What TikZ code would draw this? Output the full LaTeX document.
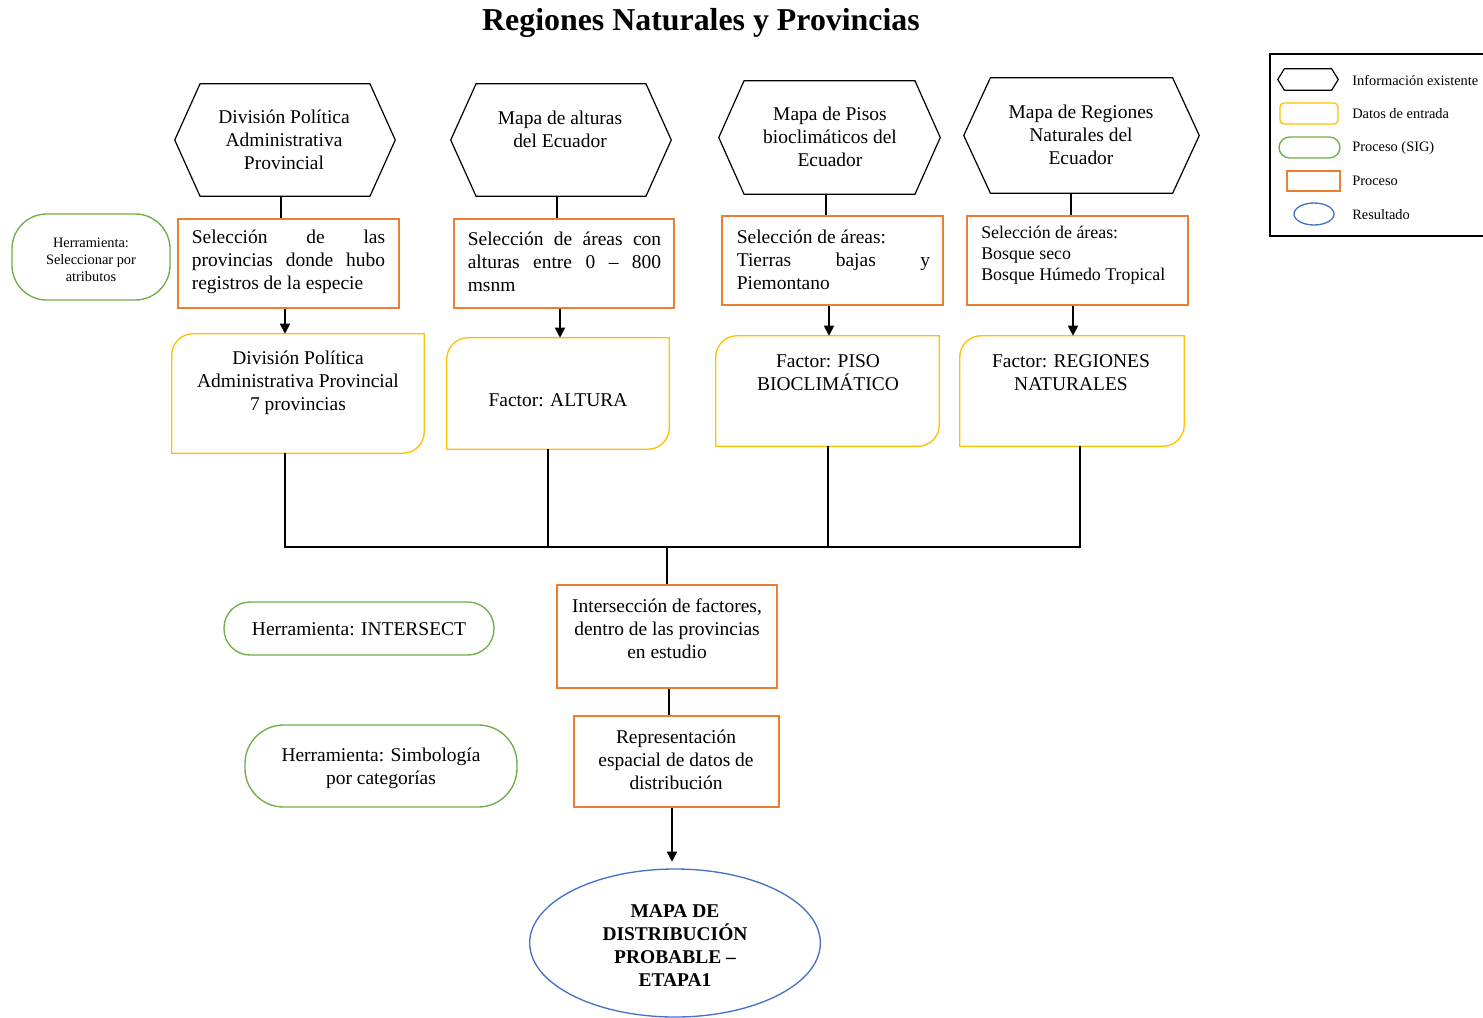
\documentclass[tikz,border=0pt]{standalone}
\usepackage{fontspec}
\setmainfont{Liberation Serif}
\usetikzlibrary{fit,shapes.geometric,arrows.meta}
\definecolor{ofcorange}{HTML}{ED7D31}
\definecolor{ofcyellow}{HTML}{FFC000}
\definecolor{ofcgreen}{HTML}{70AD47}
\definecolor{ofcblue}{HTML}{4472C4}
\hbadness=10000
% hexagon outline around an empty frame node
\newcommand\hexpath[2]{\draw[hexline] ([xshift=#2]#1.north west) -- ([xshift=-#2]#1.north east) -- (#1.east) -- ([xshift=-#2]#1.south east) -- ([xshift=#2]#1.south west) -- (#1.west) -- cycle;}
% input-data box: top-left and bottom-right corners rounded
\newcommand\yelpath[2]{\draw[ybox] ([yshift=-#2]#1.north west) -- (#1.south west) -- ([xshift=-#2]#1.south east) arc[start angle=270,end angle=360,radius=#2] -- (#1.north east) -- ([xshift=#2]#1.north west) arc[start angle=90,end angle=180,radius=#2] -- cycle;}
\tikzset{
  frame/.style={inner sep=0pt,draw=none},
  hexline/.style={draw=black,line width=0.9pt,line join=miter},
  ybox/.style={draw=ofcyellow,line width=1pt},
  obox/.style={frame,draw=ofcorange,line width=1pt},
  gbox/.style={frame,draw=ofcgreen,line width=1pt},
  txt/.style={inner sep=0pt,yshift=-1.8pt,align=center,font=\fontsize{14.6}{17.25}\selectfont},
  jtxt/.style={inner sep=0pt,yshift=-2.2pt,align=justify,text width=145pt,font=\fontsize{14.6}{17.25}\selectfont},
  small/.style={inner sep=0pt,yshift=-1pt,align=center,font=\fontsize{10.8}{12.75}\selectfont},
  legtxt/.style={inner sep=0pt,yshift=-0.6pt,anchor=west,font=\fontsize{10.8}{12.75}\selectfont},
  conn/.style={draw=black,line width=1.3pt},
  arr/.style={conn,-{Triangle[width=7.5pt,length=7.5pt]}},
}
\begin{document}
\begin{tikzpicture}[x=0.75pt,y=0.75pt]
\useasboundingbox (0,0) rectangle (1483,-1017);

% title
\node[inner sep=0pt,font=\fontsize{23.9}{28}\selectfont\bfseries] (title) at (701,-23) {Regiones Naturales y Provincias};

% existing information (hexagons)
\node[frame,fit={(175,-84)(395,-196)}] (h1) {};
\node[frame,fit={(451,-84)(671,-196)}] (h2) {};
\node[frame,fit={(719,-81)(940,-194)}] (h3) {};
\node[frame,fit={(964,-78)(1199,-193)}] (h4) {};
\hexpath{h1}{19pt}\hexpath{h2}{19pt}\hexpath{h3}{19pt}\hexpath{h4}{20pt}
\node[txt,yshift=1pt] (h1t) at (284,-139) {División Política\\Administrativa\\Provincial};
\node[txt,yshift=1pt] (h2t) at (560,-128) {Mapa de alturas\\del Ecuador};
\node[txt,yshift=1pt] (h3t) at (830,-136) {Mapa de Pisos\\bioclimáticos del\\Ecuador};
\node[txt,yshift=1pt] (h4t) at (1081,-134) {Mapa de Regiones\\Naturales del\\Ecuador};

% selection processes
\node[obox,fit={(178,-219)(399,-308)}] (s1) {};
\node[obox,fit={(454,-219)(674,-308)}] (s2) {};
\node[obox,fit={(722,-216)(943,-305)}] (s3) {};
\node[obox,fit={(967,-216)(1188,-305)}] (s4) {};
\node[jtxt] (s1t) at (288.5,-259) {Selección de las\linebreak provincias donde hubo\linebreak registros de la especie};
\node[jtxt] (s2t) at (564.5,-259) {Selección de áreas con\linebreak alturas entre 0 – 800\linebreak msnm};
\node[jtxt] (s3t) at (833.5,-257) {Selección de áreas:\\Tierras bajas y\linebreak Piemontano};
\node[inner sep=0pt,anchor=west,align=left,yshift=-1.5pt,font=\fontsize{13.4}{15.75}\selectfont] (s4t) at (981,-253) {Selección de áreas:\\Bosque seco\\Bosque Húmedo Tropical};

% input data (factors)
\node[frame,fit={(172,-334)(424,-453)}] (f1) {};
\node[frame,fit={(447,-338)(669,-449)}] (f2) {};
\node[frame,fit={(716,-336)(939,-446)}] (f3) {};
\node[frame,fit={(960,-336)(1184,-446)}] (f4) {};
\yelpath{f1}{16pt}\yelpath{f2}{16pt}\yelpath{f3}{16pt}\yelpath{f4}{16pt}
\node[txt] (f1t) at (298,-380) {División Política\\Administrativa Provincial\\7 provincias};
\node[txt] (f2t) at (558,-398) {Factor: ALTURA};
\node[txt] (f3t) at (828,-370) {Factor: PISO\\BIOCLIMÁTICO};
\node[txt] (f4t) at (1071,-370) {Factor: REGIONES\\NATURALES};

% GIS tools
\node[gbox,rounded corners=26pt,fit={(12,-214)(170,-300)}] (g1) {};
\node[small] (g1t) at (91,-258) {Herramienta:\\Seleccionar por\\atributos};
\node[gbox,rounded corners=19.5pt,fit={(224,-602)(494,-655)}] (g2) {};
\node[txt,yshift=1pt] (g2t) at (359,-628) {Herramienta: INTERSECT};
\node[gbox,rounded corners=29pt,fit={(245,-725)(517,-807)}] (g3) {};
\node[txt] (g3t) at (381,-766) {Herramienta: Simbología\\por categorías};

% overlay and representation
\node[obox,fit={(557,-585)(777,-688)}] (ix) {};
\node[txt] (ixt) at (667,-626) {Intersección de factores,\\dentro de las provincias\\en estudio};
\node[obox,fit={(574,-716)(779,-807)}] (rp) {};
\node[txt] (rpt) at (676,-757) {Representación\\espacial de datos de\\distribución};

% result
\node[ellipse,draw=ofcblue,line width=1pt,inner sep=0pt,minimum width=218pt,minimum height=111pt] (res) at (675,-943) {};
\node[txt,font=\fontsize{14.6}{17.25}\selectfont\bfseries] (rest) at (675,-943.5) {MAPA DE\\DISTRIBUCIÓN\\PROBABLE –\\ETAPA1};

% connectors: maps to selections to factors
\draw[conn] (h1.south -| 281,0) -- (s1.north -| 281,0);
\draw[conn] (h2.south -| 557,0) -- (s2.north -| 557,0);
\draw[conn] (h3.south -| 826,0) -- (s3.north -| 826,0);
\draw[conn] (h4.south -| 1071,0) -- (s4.north -| 1071,0);
\draw[arr] (s1.south -| 285,0) -- (f1.north -| 285,0);
\draw[arr] (s2.south -| 560,0) -- (f2.north -| 560,0);
\draw[arr] (s3.south -| 829,0) -- (f3.north -| 829,0);
\draw[arr] (s4.south -| 1073,0) -- (f4.north -| 1073,0);

% collecting bus into the intersection
\coordinate (b1) at (285,-547);
\coordinate (b2) at (548,-547);
\coordinate (b3) at (828,-547);
\coordinate (b4) at (1080,-547);
\coordinate (bm) at (667,-547);
\draw[conn] (f1.south -| b1) -- (b1);
\draw[conn] (f2.south -| b2) -- (b2);
\draw[conn] (f3.south -| b3) -- (b3);
\draw[conn] (f4.south -| b4) -- (b4);
\draw[conn,line cap=rect] (b1) -- (b4);
\draw[conn] (bm) -- (ix.north -| bm);
\draw[conn] (ix.south -| 669,0) -- (rp.north -| 669,0);
\draw[arr] (rp.south -| 672,0) -- ([yshift=5pt]res.north -| 672,0);

% legend
\node[frame,draw=black,line width=1pt,fit={(1270,-54)(1495,-236)}] (leg) {};
\node[frame,fit={(1278,-69)(1338,-90)}] (lh) {};
\hexpath{lh}{5pt}
\node[frame,draw=ofcyellow,line width=1pt,rounded corners=3pt,fit={(1280,-103)(1338,-124)}] (ly) {};
\node[gbox,rounded corners=8pt,fit={(1279,-137)(1340,-158)}] (lg) {};
\node[obox,fit={(1287,-171)(1340,-191)}] (lo) {};
\node[ellipse,draw=ofcblue,line width=1pt,inner sep=0pt,minimum width=30pt,minimum height=16.5pt] (lb) at (1314,-214) {};
\node[legtxt] (lht) at (1352,-80) {Información existente};
\node[legtxt] (lyt) at (1352,-113) {Datos de entrada};
\node[legtxt] (lgt) at (1352,-147) {Proceso (SIG)};
\node[legtxt] (lot) at (1352,-180) {Proceso};
\node[legtxt] (lbt) at (1352,-214) {Resultado};
\end{tikzpicture}
\end{document}
